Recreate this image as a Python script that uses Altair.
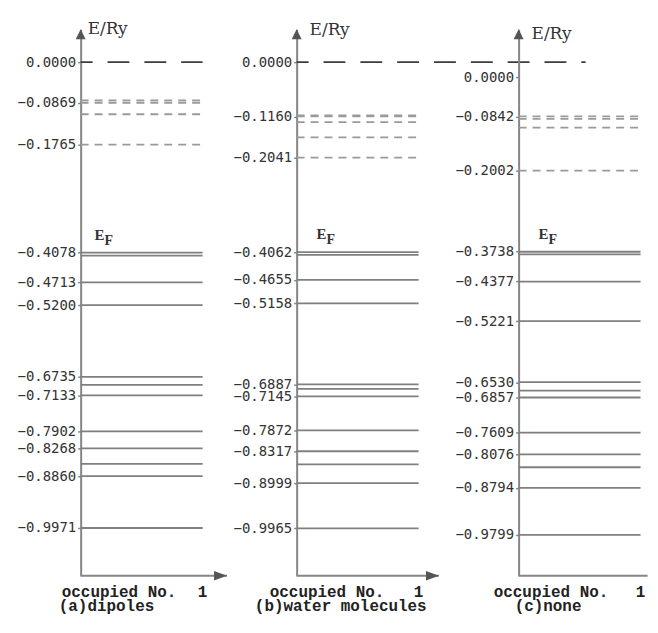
import altair as alt
import pandas as pd

# ---------------- data ----------------
captions = ["(a)dipoles", "(b)water molecules", "(c)none"]

label_values = [
    [0.0, -0.0869, -0.1765, -0.4078, -0.4713, -0.5200, -0.6735, -0.7133, -0.7902, -0.8268, -0.8860, -0.9971],
    [0.0, -0.1160, -0.2041, -0.4062, -0.4655, -0.5158, -0.6887, -0.7145, -0.7872, -0.8317, -0.8999, -0.9965],
    [0.0, -0.0842, -0.2002, -0.3738, -0.4377, -0.5221, -0.6530, -0.6857, -0.7609, -0.8076, -0.8794, -0.9799],
]

virtual_levels = [
    [-0.0820, -0.0869, -0.1115, -0.1765],
    [-0.1140, -0.1160, -0.1280, -0.1610, -0.2041],
    [-0.0842, -0.0895, -0.1080, -0.2002],
]

occupied_levels = [
    [-0.4078, -0.4140, -0.4713, -0.5200, -0.6735, -0.6909, -0.7133, -0.7902, -0.8268, -0.8600, -0.8860, -0.9971],
    [-0.4062, -0.4120, -0.4655, -0.5158, -0.6887, -0.6985, -0.7145, -0.7872, -0.8317, -0.8596, -0.8999, -0.9965],
    [-0.3738, -0.3795, -0.4377, -0.5221, -0.6530, -0.6710, -0.6857, -0.7609, -0.8076, -0.8350, -0.8794, -0.9799],
]

vacuum_level = 0.0
vacuum_line_end = [1.0, 2.37, None]
occupation = 1

# ---------------- layout / style ----------------
PLOT_H = 549
WIDTHS = [147, 153, 128]
PX_PER_UNIT_X = 122.5
X_MAX = [w / PX_PER_UNIT_X for w in WIDTHS]
Y_TOP = [0.0703, 0.0702, 0.1023]
Y_BOTTOM = [-1.0993, -1.0979, -1.0673]
ARROW_END = [1.2, 1.167, 1.058]
SHOW_X_ARROW = [True, True, False]   # panel (c) arrow is cut by the figure edge
EF_DX = [14, 20, 20]
ERY_DX = [7, 13, 13]
ERY_DY = [5, 6, 10]
OCC_X = [-19, -27, -25]
CAP_X = [-22, -42, -4]
OCC_DY = 21
CAP_DY = 35

AXIS_GRAY = "#868686"
SOLID_GRAY = "#7f7f7f"
DASH_GRAY = "#9a9a9a"
TEXT = "#333333"
CAP_FONT = "Liberation Mono"

UP_ARROW = "M0,-1L1,1L-1,1Z"
RIGHT_ARROW = "M-1,-0.75L1,0L-1,0.75Z"


def panel(i):
    ys = alt.Scale(domain=[Y_BOTTOM[i], Y_TOP[i]], nice=False, zero=False)
    xs = alt.Scale(domain=[0, X_MAX[i]], nice=False, zero=False)
    yax = alt.Axis(
        values=label_values[i], format=".4f", title=None, grid=False,
        labelFont="DejaVu Sans Mono", labelFontSize=14, labelColor=TEXT,
        labelPadding=2, labelOverlap=False,
        domainColor=AXIS_GRAY, domainWidth=2,
        tickColor=AXIS_GRAY, tickSize=3, tickWidth=1.5,
    )

    def Y(field="E"):
        return alt.Y(f"{field}:Q", scale=ys, axis=yax)

    def X(field):
        return alt.X(f"{field}:Q", scale=xs, axis=None)

    occ = pd.DataFrame({"E": occupied_levels[i], "x0": 0, "x1": occupation})
    virt = pd.DataFrame({"E": virtual_levels[i], "x0": 0, "x1": occupation})

    layers = []
    layers.append(
        alt.Chart(occ).mark_rule(color=SOLID_GRAY, strokeWidth=1.8)
        .encode(x=X("x0"), x2="x1:Q", y=Y())
    )
    layers.append(
        alt.Chart(virt).mark_rule(color=DASH_GRAY, strokeWidth=1.8, strokeDash=[8, 6])
        .encode(x=X("x0"), x2="x1:Q", y=Y())
    )
    if vacuum_line_end[i] is not None:
        vac = pd.DataFrame({"E": [vacuum_level], "x0": [0], "x1": [vacuum_line_end[i]]})
        layers.append(
            alt.Chart(vac).mark_rule(color="#3c3c3c", strokeWidth=1.6,
                                     strokeDash=[22, 15], strokeDashOffset=10)
            .encode(x=X("x0"), x2="x1:Q", y=Y())
        )

    # x axis line with arrow
    xaxis = pd.DataFrame({"E": [Y_BOTTOM[i]], "x0": [0], "x1": [ARROW_END[i]]})
    layers.append(
        alt.Chart(xaxis).mark_rule(color=AXIS_GRAY, strokeWidth=2)
        .encode(x=X("x0"), x2="x1:Q", y=Y())
    )
    if SHOW_X_ARROW[i]:
        layers.append(
            alt.Chart(xaxis).mark_point(shape=RIGHT_ARROW, filled=True, size=169,
                                        color="#555555", opacity=1, xOffset=-6.5)
            .encode(x=X("x1"), y=Y())
        )
    top = pd.DataFrame({"E": [Y_TOP[i]], "x0": [0]})
    layers.append(
        alt.Chart(top).mark_point(shape=UP_ARROW, filled=True, size=100,
                                  color="#555555", opacity=1, yOffset=5)
        .encode(x=X("x0"), y=Y())
    )
    layers.append(
        alt.Chart(top).mark_text(text="E/Ry", font="DejaVu Serif", fontSize=17,
                                 color=TEXT, align="left", baseline="alphabetic",
                                 dx=ERY_DX[i], dy=ERY_DY[i])
        .encode(x=X("x0"), y=Y())
    )

    # Fermi level label
    fermi = pd.DataFrame({"E": [occupied_levels[i][0]], "x0": [0]})
    layers.append(
        alt.Chart(fermi).mark_text(text="E", font="Liberation Serif", fontSize=15,
                                   fontWeight="bold", color=TEXT, align="left",
                                   baseline="alphabetic", dx=EF_DX[i], dy=-13)
        .encode(x=X("x0"), y=Y())
    )
    layers.append(
        alt.Chart(fermi).mark_text(text="F", font="Liberation Serif", fontSize=14,
                                   fontWeight="bold", color=TEXT, align="left",
                                   baseline="alphabetic", dx=EF_DX[i] + 10, dy=-8)
        .encode(x=X("x0"), y=Y())
    )

    # x tick label "1"
    one = pd.DataFrame({"E": [Y_BOTTOM[i]], "x0": [occupation], "t": [str(occupation)]})
    layers.append(
        alt.Chart(one).mark_text(font=CAP_FONT, fontSize=16, fontWeight="bold",
                                 color="#222222", align="center",
                                 baseline="alphabetic", dy=OCC_DY)
        .encode(x=X("x0"), y=Y(), text="t:N")
    )
    # x title and caption
    txt = pd.DataFrame({"t": ["occupied No."]})
    layers.append(
        alt.Chart(txt).mark_text(font=CAP_FONT, fontSize=16, fontWeight="bold",
                                 color="#222222", align="left", baseline="alphabetic")
        .encode(x=alt.value(OCC_X[i]), y=alt.value(PLOT_H + OCC_DY), text="t:N")
    )
    cap = pd.DataFrame({"t": [captions[i]]})
    layers.append(
        alt.Chart(cap).mark_text(font=CAP_FONT, fontSize=16, fontWeight="bold",
                                 color="#222222", align="left", baseline="alphabetic")
        .encode(x=alt.value(CAP_X[i]), y=alt.value(PLOT_H + CAP_DY), text="t:N")
    )

    return alt.layer(*layers).properties(width=WIDTHS[i], height=PLOT_H)


chart = alt.hconcat(
    panel(0), panel(1), panel(2),
    spacing=70, bounds="flush",
    padding={"left": 8, "top": 10, "right": 0, "bottom": 0},
    background="white",
).configure_view(stroke="transparent")

chart.save("out.html", embed_options={"renderer": "svg", "actions": False})
